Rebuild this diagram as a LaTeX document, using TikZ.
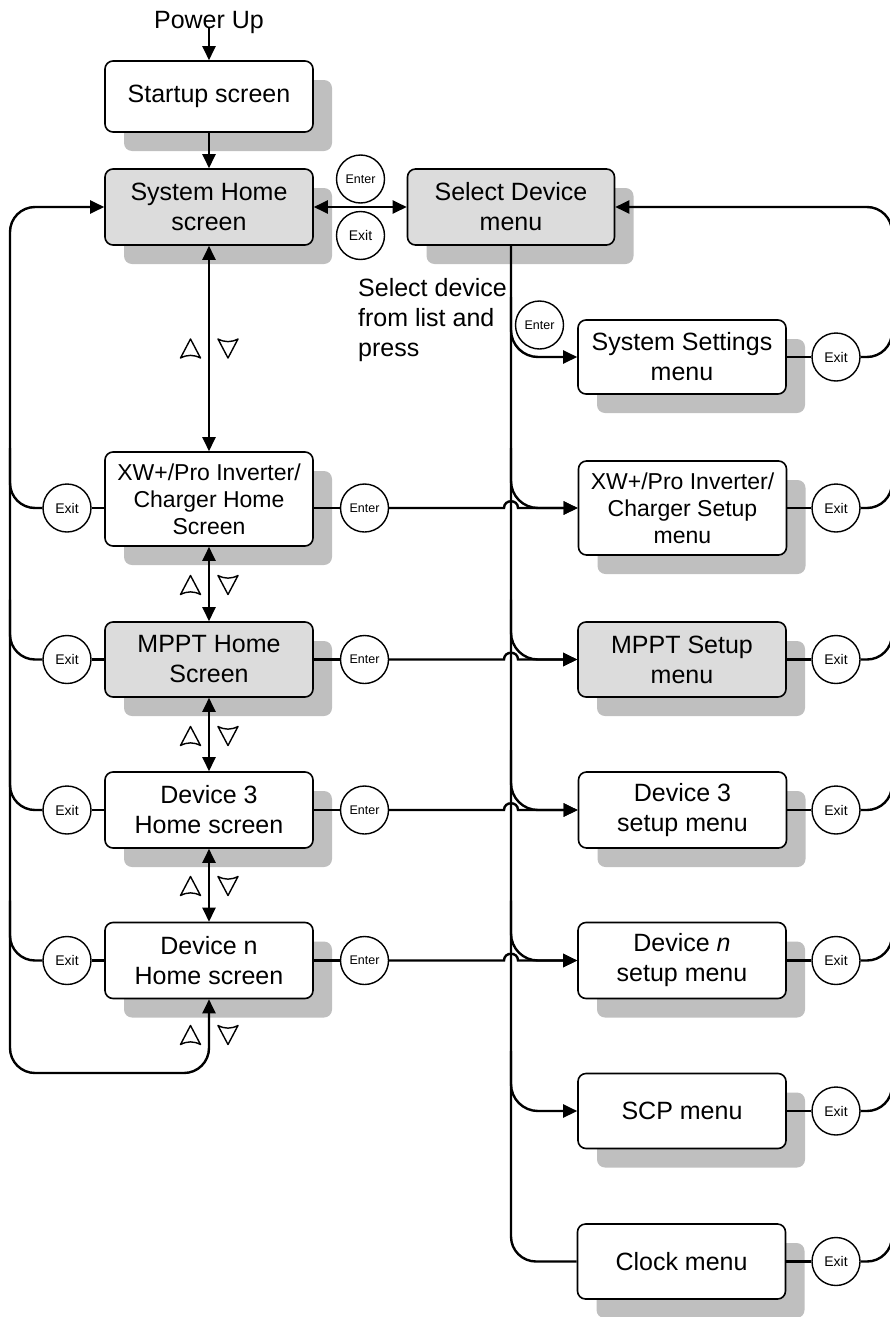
\documentclass[tikz,border=0pt]{standalone}
\usepackage{fontspec}
\setmainfont{Liberation Sans}
\usetikzlibrary{arrows.meta,shadows,calc}
\definecolor{boxgray}{HTML}{DCDCDC}
\definecolor{shadowgray}{HTML}{BFBFBF}
\tikzset{
 screen/.style={draw, line width=1.6pt, rounded corners=8pt, fill=white, minimum width=208pt, minimum height=76pt, align=center, font=\fontsize{25}{30}\selectfont, inner sep=0pt, general shadow={shadow xshift=19pt, shadow yshift=-19pt, fill=shadowgray}},
 grayscreen/.style={screen, fill=boxgray},
 smalltext/.style={font=\fontsize{23}{27}\selectfont},
 btn/.style={draw, circle, line width=1.4pt, minimum size=48pt, inner sep=0pt, fill=white},
 enterbtn/.style={btn, font=\fontsize{12.5}{14}\selectfont},
 exitbtn/.style={btn, font=\fontsize{14}{16}\selectfont},
 wire/.style={line width=2.4pt},
 arr/.style={wire, -{Triangle[length=14pt,width=13pt]}},
 darr/.style={wire, {Triangle[length=14pt,width=13pt]}-{Triangle[length=14pt,width=13pt]}},
 tri/.style={line width=1.4pt, line join=round},
 uptri/.pic={\draw[tri] (-10,9.5) -- (0,-9.5) -- (10,9.5) .. controls (3,6) and (-3,6) .. cycle;},
 downtri/.pic={\draw[tri] (-10,-9.5) -- (0,9.5) -- (10,-9.5) .. controls (3,-6) and (-3,-6) .. cycle;},
}
\begin{document}
\begin{tikzpicture}[x=1pt,y=-1pt]
\useasboundingbox (0,0) rectangle (890,1317);
% texts
\node[font=\fontsize{25}{30}\selectfont, inner sep=0pt, anchor=base] (pw) at (209,28) {Power Up};
\node[font=\fontsize{25}{30}\selectfont, inner sep=0pt, anchor=north west, align=left] (seltext) at (358,278) {Select device\\from list and\\press};
% screens
\node[screen, minimum height=71pt] (startup) at (209,96.5) {Startup screen};
\node[grayscreen] (syshome) at (209,207) {System Home\\screen};
\node[grayscreen, minimum width=207pt] (seldev) at (511,207) {Select Device\\menu};
\node[screen, minimum height=74pt] (sysset) at (682,357) {System Settings\\menu};
\node[screen, smalltext, minimum height=94pt] (xwhome) at (209,499) {XW+/Pro Inverter/\\Charger Home\\Screen};
\node[screen, smalltext, minimum height=94pt] (xwsetup) at (682.5,508) {XW+/Pro Inverter/\\Charger Setup\\menu};
\node[grayscreen, minimum height=75pt] (mppthome) at (209,659.5) {MPPT Home\\Screen};
\node[grayscreen, minimum height=75pt] (mpptsetup) at (682,659.5) {MPPT Setup\\menu};
\node[screen] (d3home) at (209,810) {Device 3\\Home screen};
\node[screen] (d3setup) at (682.5,810) {Device 3\\setup menu};
\node[screen] (dnhome) at (209,960.5) {Device n\\Home screen};
\node[screen] (dnsetup) at (682,960.5) {Device \textit{n}\\setup menu};
\node[screen, minimum height=75pt] (scp) at (682,1111) {SCP menu};
\node[screen, minimum height=75pt] (clock) at (681.5,1261.5) {Clock menu};
% buttons
\node[enterbtn] (e0) at (360.5,179) {Enter};
\node[exitbtn] (x0) at (360.5,235.5) {Exit};
\node[enterbtn] (e1) at (539.5,325) {Enter};
\node[exitbtn] (rx1) at (836,357) {Exit};
\node[exitbtn] (lx2) at (67,508) {Exit};
\node[enterbtn] (le2) at (364.5,508) {Enter};
\node[exitbtn] (rx2) at (836,508) {Exit};
\node[exitbtn] (lx3) at (67,659.5) {Exit};
\node[enterbtn] (le3) at (364.5,659.5) {Enter};
\node[exitbtn] (rx3) at (836,659.5) {Exit};
\node[exitbtn] (lx4) at (67,810) {Exit};
\node[enterbtn] (le4) at (364.5,810) {Enter};
\node[exitbtn] (rx4) at (836,810) {Exit};
\node[exitbtn] (lx5) at (67,960.5) {Exit};
\node[enterbtn] (le5) at (364.5,960.5) {Enter};
\node[exitbtn] (rx5) at (836,960.5) {Exit};
\node[exitbtn] (rx6) at (836,1111) {Exit};
\node[exitbtn] (rx7) at (836,1261.5) {Exit};
\coordinate (lbus) at (10,207);
\coordinate (rbus) at (892,207);
% main connectors
\draw[arr] (pw.base) -- (startup.north);
\draw[arr] (startup) -- (syshome);
\draw[darr] (syshome) -- (seldev);
\draw[darr] (syshome) -- (xwhome);
\draw[darr] (xwhome) -- (mppthome);
\draw[darr] (mppthome) -- (d3home);
\draw[darr] (d3home) -- (dnhome);
\draw[darr, rounded corners=25pt] (dnhome.south) -- (209,1073) -- (10,1073) -- (lbus) -- (syshome.west);
% left exits and enters
\foreach \h/\s/\y [count=\i from 2] in {xwhome/xwsetup/508, mppthome/mpptsetup/659.5, d3home/d3setup/810, dnhome/dnsetup/960.5}{
  \draw[wire] (\h.west |- lx\i) -- (lx\i);
  \draw[wire, rounded corners=25pt] (lx\i.west) -| (10,\y-60);
  \draw[wire] (\h.east |- le\i) -- (le\i);
  \draw[arr] (le\i.east) -- (504,\y) .. controls (504,\y-9) and (518,\y-9) .. (518,\y) -- (\s.west);
}
% bus
\draw[wire, rounded corners=25pt] (seldev.south) -- (511,1261.5) -- (clock.west);
\foreach \s/\y in {sysset/357, xwsetup/508, mpptsetup/659.5, d3setup/810, dnsetup/960.5, scp/1111}{
  \draw[arr, rounded corners=27pt] (511,\y-60) |- (\s.west);
}
% right exits
\foreach \s [count=\i] in {sysset, xwsetup, mpptsetup, d3setup, dnsetup, scp, clock}{
  \draw[wire] (\s.east |- rx\i) -- (rx\i);
  \draw[wire, rounded corners=25pt] (rx\i.east) -| ($(rbus |- rx\i)+(0,-60)$);
}
\draw[arr, rounded corners=25pt] (892,1261.5) -- (rbus) -- (seldev.east);
% arrow-key symbols
\foreach \y in {348.5,585,736,886,1035}{
  \pic at (190.5,\y) {uptri};
  \pic at (228,\y) {downtri};
}
\end{tikzpicture}
\end{document}
